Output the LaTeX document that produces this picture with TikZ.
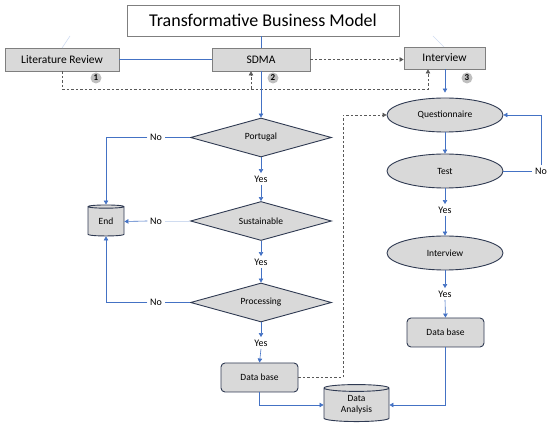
\documentclass[tikz,border=0pt]{standalone}
\usepackage{fontspec}
\setmainfont{Carlito}
\usetikzlibrary{shapes.geometric,arrows.meta}
\definecolor{lnblue}{HTML}{4472C4}
\definecolor{boxfill}{HTML}{D9D9D9}
\definecolor{dkedge}{HTML}{2F3A52}
\definecolor{gredge}{HTML}{7F7F7F}
\definecolor{dshcol}{HTML}{595959}
\definecolor{numfill}{HTML}{BFBFBF}
\tikzset{
  tip/.style={-{Triangle[width=4.5pt,length=4pt]}},
  ln/.style={draw=lnblue, line width=0.6pt},
  arr/.style={ln, tip},
  faintln/.style={draw=lnblue!25, line width=0.6pt},
  dsh/.style={draw=dshcol, line width=0.6pt, dash pattern=on 2.5pt off 2pt},
  titlebox/.style={draw=gredge, line width=0.8pt, fill=white, font=\fontsize{18}{20}\selectfont, inner sep=0pt},
  topbox/.style={draw=gredge, line width=0.8pt, fill=boxfill, font=\fontsize{11.5}{13}\selectfont, inner sep=0pt},
  numc/.style={circle, fill=numfill, inner sep=0pt, minimum size=11pt, font=\fontsize{9}{10}\selectfont\bfseries},
  dia/.style={diamond, draw=dkedge, line width=0.9pt, fill=boxfill, aspect=3.6, inner sep=0pt, minimum width=141pt, minimum height=39pt, font=\fontsize{9.5}{10}\selectfont},
  ell/.style={ellipse, draw=dkedge, line width=0.9pt, fill=boxfill, inner sep=0pt, minimum width=116pt, minimum height=34pt, font=\fontsize{9.5}{10}\selectfont},
  dbbox/.style={rectangle, rounded corners=4pt, draw=dkedge, line width=0.9pt, fill=boxfill, inner sep=0pt, minimum width=77pt, minimum height=29pt, font=\fontsize{9.5}{10}\selectfont},
  cyl/.style={cylinder, shape border rotate=90, aspect=0.22, draw=dkedge, line width=0.9pt, fill=boxfill, inner sep=0pt, font=\fontsize{9.5}{11}\selectfont, align=center},
  lab/.style={inner sep=2.5pt, font=\fontsize{10}{11}\selectfont}
}
\begin{document}
\begin{tikzpicture}[x=1pt,y=-1pt]
\useasboundingbox (0,0) rectangle (550,430);
% top part
\node[titlebox, minimum width=272pt, minimum height=31pt] (title) at (263,20.5) {Transformative Business Model};
\node[topbox, minimum width=114pt, minimum height=23pt] (lit) at (62,59.5) {Literature Review};
\node[topbox, minimum width=98pt, minimum height=23pt] (sdma) at (261,59.5) {SDMA};
\node[topbox, minimum width=81pt, minimum height=22pt] (intv) at (444.5,58) {Interview};
\node[numc] (n1) at (96,78) {1};
\node[numc] (n2) at (273,78) {2};
\node[numc] (n3) at (467,78) {3};
\coordinate (fl1) at (70,36);
\coordinate (fl2) at (62,48);
\coordinate (fr1) at (433,36);
\coordinate (fr2) at (444,47);
\draw[faintln] (fl1) -- (fl2);
\draw[faintln] (fr1) -- (fr2);
\draw[ln] (title.south -| sdma.north) -- (sdma.north);
\draw[ln] (lit.east) -- (sdma.west);
\draw[dsh, tip] (sdma.east) -- (sdma.east -| intv.west);
\coordinate (da) at (62,89);
\coordinate (db) at (428,89);
\coordinate (dc) at (251,89);
\draw[dsh, tip] (lit.south) -- (da) -- (db) -- (db |- intv.south);
\draw[dsh, tip] (dc) -- (dc |- sdma.south);
% left column
\node[dia] (port) at (261,137.5) {Portugal};
\node[dia] (sust) at (261,221) {Sustainable};
\node[dia] (proc) at (261,302.5) {Processing};
\node[lab] (y1) at (261,179) {Yes};
\node[lab] (y2) at (261,262) {Yes};
\node[lab] (y3) at (261,343) {Yes};
\node[lab] (no1) at (156,137.5) {No};
\node[lab] (no2) at (156,221) {No};
\node[lab] (no3) at (156,302.5) {No};
\node[cyl, minimum width=36pt, minimum height=31pt] (endn) at (106,221.5) {End};
\node[dbbox] (db1) at (259.5,377.5) {Data base};
\node[cyl, minimum width=65pt, minimum height=37pt] (dan) at (356.5,405) {Data\\Analysis};
\draw[arr] (sdma.south) -- (port.north);
\draw[arr] (port.south) -- (y1.north);
\draw[arr] (y1.south) -- (sust.north);
\draw[arr] (sust.south) -- (y2.north);
\draw[arr] (y2.south) -- (proc.north);
\draw[arr] (proc.south) -- (y3.north);
\draw[arr] (y3.south) -- (db1.north);
\draw[ln] (port.west) -- (no1.east);
\draw[arr] (no1.west) -| (endn.north);
\draw[faintln] (sust.west) -- (no2.east);
\draw[arr] (no2.west) -- (endn.east);
\draw[ln] (proc.west) -- (no3.east);
\draw[arr] (no3.west) -| (endn.south);
\draw[arr] (db1.south) |- (dan.west);
% right column
\node[ell] (quest) at (445,115) {Questionnaire};
\node[ell] (test) at (445,171) {Test};
\node[ell] (iv2) at (445,253) {Interview};
\node[dbbox] (db2) at (445.5,332.5) {Data base};
\node[lab] (y4) at (445,210) {Yes};
\node[lab] (y5) at (445,294) {Yes};
\node[lab] (no4) at (541,171) {No};
\draw[arr, shorten >=5pt] (intv.south -| quest.north) -- (quest.north);
\draw[arr] (quest.south) -- (test.north);
\draw[arr] (test.south) -- (y4.north);
\draw[arr] (y4.south) -- (iv2.north);
\draw[arr] (iv2.south) -- (y5.north);
\draw[arr] (y5.south) -- (db2.north);
\draw[ln] (test.east) -- (no4.west);
\draw[arr] (no4.north) |- (quest.east);
\draw[arr] (db2.south) |- (dan.east);
\coordinate (dd) at (343,377.5);
\draw[dsh, tip] (db1.east) -- (dd) -- (dd |- quest.west) -- (quest.west);
\end{tikzpicture}
\end{document}
